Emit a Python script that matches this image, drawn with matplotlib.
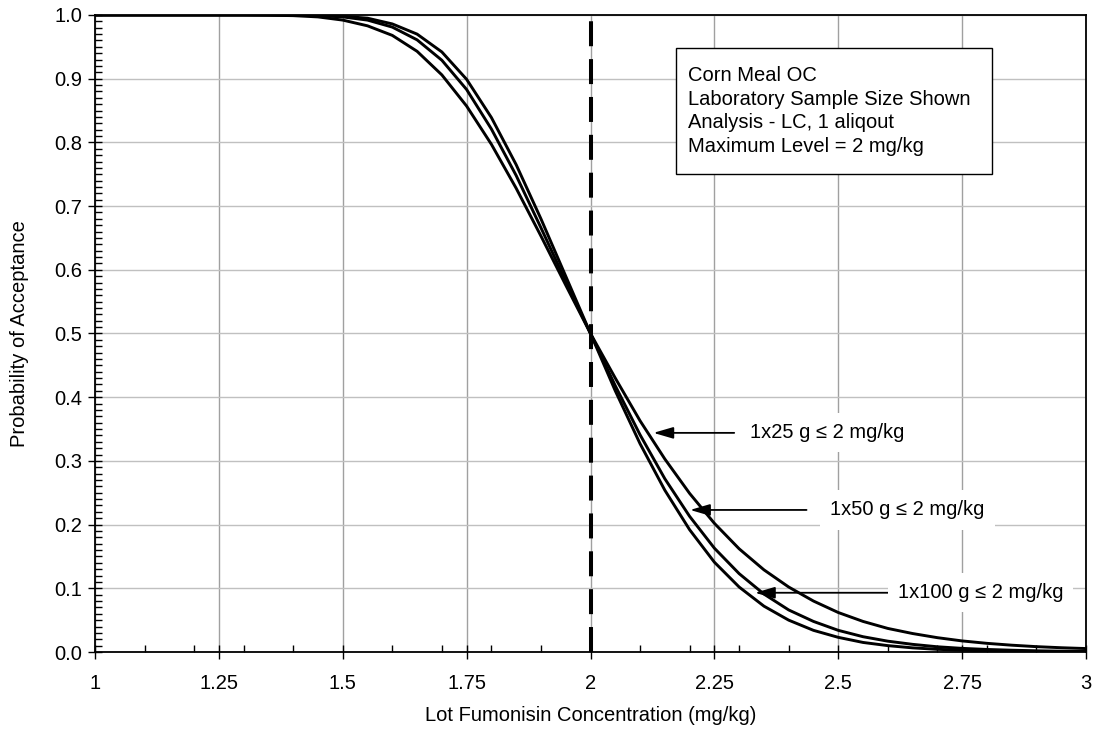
import matplotlib
matplotlib.use("Agg")
import matplotlib.pyplot as plt
from matplotlib.ticker import MultipleLocator, FixedLocator, FixedFormatter
from matplotlib.patches import Rectangle, ArrowStyle

plt.rcParams['font.family'] = ['Liberation Sans', 'DejaVu Sans']

# Concentracion del lote (mg/kg) y probabilidad de aceptacion
conc = [1.0, 1.1, 1.2, 1.3, 1.35, 1.4, 1.45, 1.5, 1.55, 1.6, 1.65, 1.7, 1.75,
        1.8, 1.85, 1.9, 1.95, 2.0, 2.05, 2.1, 2.15, 2.2, 2.25, 2.3, 2.35,
        2.4, 2.45, 2.5, 2.55, 2.6, 2.65, 2.7, 2.75, 2.8, 2.85, 2.9, 2.95, 3.0]

p_25g = [1.0, 1.0, 1.0, 1.0, 0.9996, 0.999, 0.997, 0.992, 0.983, 0.968, 0.943,
         0.906, 0.857, 0.797, 0.728, 0.653, 0.576, 0.500, 0.430, 0.363, 0.303,
         0.249, 0.202, 0.162, 0.129, 0.102, 0.080, 0.062, 0.048, 0.037, 0.029,
         0.0225, 0.0174, 0.0136, 0.0107, 0.0084, 0.0067, 0.0054]

p_50g = [1.0, 1.0, 1.0, 1.0, 1.0, 0.9997, 0.999, 0.997, 0.992, 0.981, 0.961,
         0.929, 0.883, 0.821, 0.748, 0.666, 0.582, 0.500, 0.418, 0.341, 0.272,
         0.213, 0.163, 0.123, 0.091, 0.066, 0.048, 0.034, 0.024, 0.017, 0.012,
         0.0082, 0.0057, 0.0040, 0.0028, 0.0019, 0.0013, 0.0010]

p_100g = [1.0, 1.0, 1.0, 1.0, 1.0, 0.9999, 0.9995, 0.998, 0.995, 0.986, 0.970,
          0.942, 0.899, 0.839, 0.765, 0.680, 0.590, 0.500, 0.410, 0.327, 0.254,
          0.192, 0.141, 0.102, 0.072, 0.050, 0.034, 0.023, 0.015, 0.010, 0.0065,
          0.0042, 0.0028, 0.0018, 0.0012, 0.0008, 0.0005, 0.0003]

limite_max = 2.0

x_ticks = [1.0, 1.25, 1.5, 1.75, 2.0, 2.25, 2.5, 2.75, 3.0]
x_labels = ["1", "1.25", "1.5", "1.75", "2", "2.25", "2.5", "2.75", "3"]

# etiquetas: (texto, punta de flecha, cola de flecha, inicio del texto)
etiquetas = [
    ("1x25 g \u2264 2 mg/kg", (2.127, 0.344), (2.290, 0.344), (2.322, 0.344)),
    ("1x50 g \u2264 2 mg/kg", (2.201, 0.223), (2.436, 0.223), (2.484, 0.223)),
    ("1x100 g \u2264 2 mg/kg", (2.332, 0.093), (2.601, 0.093), (2.620, 0.093)),
]

caja_lineas = ["Corn Meal OC", "Laboratory Sample Size Shown",
               "Analysis - LC, 1 aliqout", "Maximum Level = 2 mg/kg"]

fig = plt.figure(figsize=(10.93, 7.40), dpi=100)
ax = fig.add_axes([95 / 1093, 1 - 652 / 740, (1086 - 95) / 1093, (652 - 15) / 740])

for p in (p_25g, p_50g, p_100g):
    ax.plot(conc, p, color="black", lw=2.1, solid_joinstyle="round", zorder=3)

ax.axvline(limite_max, color="black", lw=2.9, dashes=(6.2, 3.2), zorder=4)

ax.set_xlim(1, 3)
ax.set_ylim(0, 1)

ax.xaxis.set_major_locator(FixedLocator(x_ticks))
ax.xaxis.set_major_formatter(FixedFormatter(x_labels))
ax.xaxis.set_minor_locator(MultipleLocator(0.1))
ax.yaxis.set_major_locator(MultipleLocator(0.1))
ax.yaxis.set_minor_locator(MultipleLocator(0.01))
ax.yaxis.set_major_formatter(matplotlib.ticker.FormatStrFormatter("%.1f"))

ax.tick_params(which="major", direction="inout", length=10, width=1,
               labelsize=14.5, color="black")
ax.tick_params(axis="x", which="major", pad=11)
ax.tick_params(axis="y", which="major", pad=4)
ax.tick_params(which="minor", direction="in", length=5, width=1, color="black")

ax.set_axisbelow(True)
ax.grid(True, axis="y", which="major", color="#c0c0c0", lw=1.0)
ax.grid(True, axis="x", which="major", color="#a0a0a0", lw=1.0)

for s in ax.spines.values():
    s.set_linewidth(1.3)
    s.set_color("black")

ax.set_xlabel("Lot Fumonisin Concentration (mg/kg)", fontsize=14.5, labelpad=9)
ax.set_ylabel("Probability of Acceptance", fontsize=14.5, labelpad=18)

estilo = ArrowStyle("-|>", head_length=1.2, head_width=0.35)
for texto, punta, cola, pos in etiquetas:
    ax.annotate("", xy=punta, xytext=cola,
                arrowprops=dict(arrowstyle=estilo, color="black", lw=1.3,
                                mutation_scale=10, shrinkA=0, shrinkB=0),
                zorder=5)
    ax.text(pos[0], pos[1], texto, ha="left", va="center", fontsize=14.5,
            zorder=5, bbox=dict(boxstyle="square,pad=0.5", fc="white", ec="none"))

ax.add_patch(Rectangle((2.173, 0.750), 0.637, 0.198, fc="white", ec="black",
                       lw=1.0, zorder=5))
ax.text(2.197, 0.849, "\n".join(caja_lineas), ha="left", va="center",
        fontsize=14.5, linespacing=1.3, zorder=6)

fig.savefig("out.png", dpi=100)
